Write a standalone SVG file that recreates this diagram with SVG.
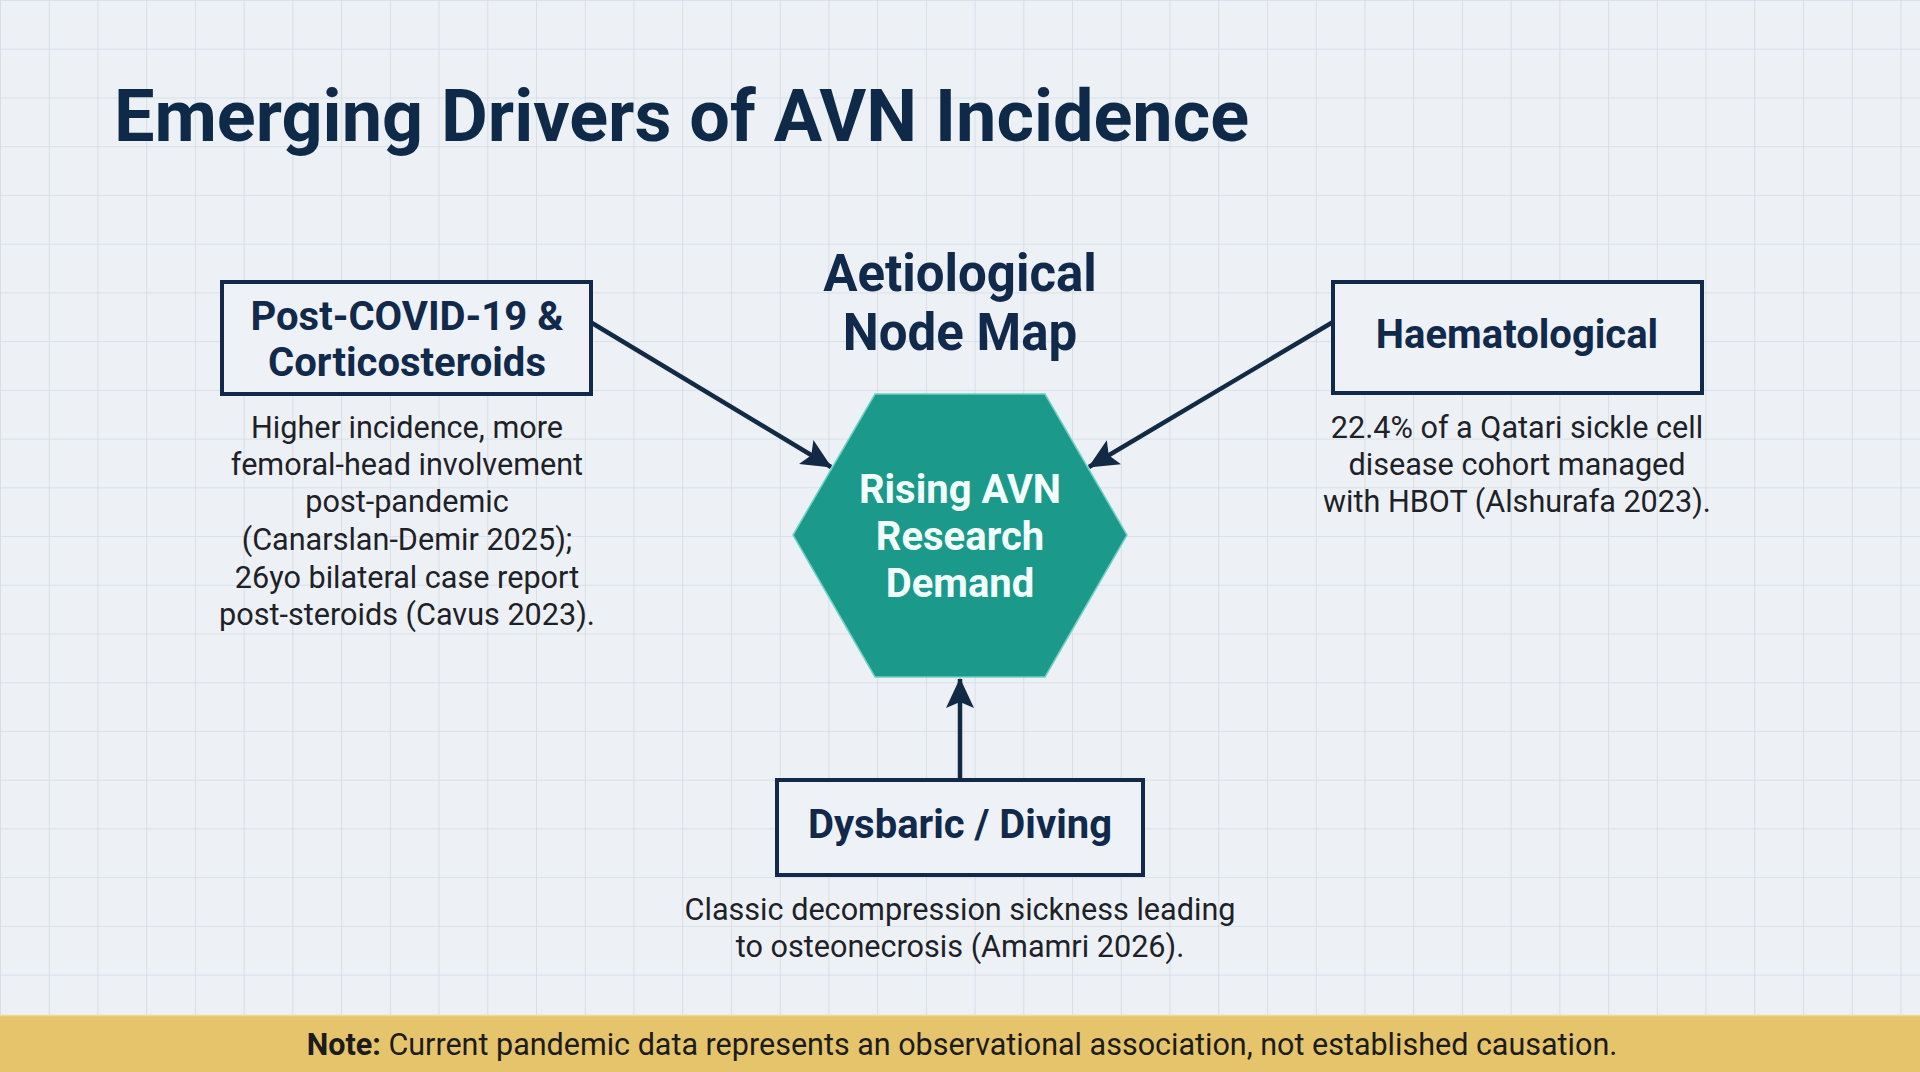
<svg xmlns="http://www.w3.org/2000/svg" width="1920" height="1072" viewBox="0 0 1920 1072">
  <defs>
    <pattern id="grid" x="0" y="0" width="48.73" height="48.73" patternUnits="userSpaceOnUse">
      <path d="M0 0 H48.73 M0 0 V48.73" fill="none" stroke="#d3dae3" stroke-width="1.6"/>
    </pattern>
    <marker id="arrow" viewBox="0 0 30 28" refX="29" refY="14" markerWidth="30" markerHeight="28" markerUnits="userSpaceOnUse" orient="auto">
      <path d="M0 0 L30 14 L0 28 L6 14 Z" fill="#122a44"/>
    </marker>
    <style>
      .title { font-family: Roboto, "Liberation Sans", sans-serif; font-weight: 700; font-size: 72px; fill: #0f2a48; }
      .sub { font-family: Roboto, "Liberation Sans", sans-serif; font-weight: 700; font-size: 51px; fill: #11294a; text-anchor: middle; }
      .head { font-family: Roboto, "Liberation Sans", sans-serif; font-weight: 700; font-size: 40px; fill: #11294a; text-anchor: middle; }
      .body { font-family: Roboto, "Liberation Sans", sans-serif; font-weight: 400; font-size: 30.6px; fill: #1e2228; text-anchor: middle; }
      .box { fill: #eef2f7; stroke: #12294a; stroke-width: 4; }
      .conn { stroke: #122a44; stroke-width: 4.5; fill: none; marker-end: url(#arrow); }
      .hextext { font-family: Roboto, "Liberation Sans", sans-serif; font-weight: 700; font-size: 40px; fill: #f2fffc; text-anchor: middle; }
      .note { font-family: Roboto, "Liberation Sans", sans-serif; font-size: 30.5px; fill: #1c1c1c; text-anchor: middle; }
    </style>
  </defs>

  <rect x="0" y="0" width="1920" height="1072" fill="#edf1f6"/>
  <rect x="0" y="0" width="1920" height="1072" fill="url(#grid)"/>

  <text class="title" x="114" y="141">Emerging Drivers of AVN Incidence</text>

  <g id="subtitle">
    <text class="sub" x="960" y="291">Aetiological</text>
    <text class="sub" x="960" y="350">Node Map</text>
  </g>

  <g id="connectors">
    <line class="conn" x1="592" y1="323" x2="831" y2="467"/>
    <line class="conn" x1="1333" y1="322" x2="1089" y2="467"/>
    <line class="conn" x1="960" y1="778" x2="960" y2="679"/>
  </g>

  <g id="node-center">
    <polygon points="793,535 875,394 1045,394 1127,535 1045,677 875,677" fill="#1b998a" stroke="#6fd0c4" stroke-width="1.5"/>
    <text class="hextext" x="960" y="503">Rising AVN</text>
    <text class="hextext" x="960" y="550">Research</text>
    <text class="hextext" x="960" y="597">Demand</text>
  </g>

  <g id="node-covid">
    <rect class="box" x="222" y="282" width="369" height="112"/>
    <text class="head" x="407" y="330">Post-COVID-19 &amp;</text>
    <text class="head" x="407" y="376">Corticosteroids</text>
    <text class="body" x="407" y="438">Higher incidence, more</text>
    <text class="body" x="407" y="475">femoral-head involvement</text>
    <text class="body" x="407" y="512">post-pandemic</text>
    <text class="body" x="407" y="550">(Canarslan-Demir 2025);</text>
    <text class="body" x="407" y="588">26yo bilateral case report</text>
    <text class="body" x="407" y="625">post-steroids (Cavus 2023).</text>
  </g>

  <g id="node-haem">
    <rect class="box" x="1333" y="282" width="369" height="111"/>
    <text class="head" x="1517" y="348">Haematological</text>
    <text class="body" x="1517" y="438">22.4% of a Qatari sickle cell</text>
    <text class="body" x="1517" y="475">disease cohort managed</text>
    <text class="body" x="1517" y="512">with HBOT (Alshurafa 2023).</text>
  </g>

  <g id="node-dysbaric">
    <rect class="box" x="777" y="780" width="366" height="95"/>
    <text class="head" x="960" y="838">Dysbaric / Diving</text>
    <text class="body" x="960" y="920">Classic decompression sickness leading</text>
    <text class="body" x="960" y="957">to osteonecrosis (Amamri 2026).</text>
  </g>

  <g id="note-bar">
    <rect x="0" y="1015" width="1920" height="57" fill="#e6c46c"/>
    <line x1="0" y1="1015.5" x2="1920" y2="1015.5" stroke="#f0d898" stroke-width="1.5"/>
    <text class="note" x="962" y="1055"><tspan font-weight="700">Note:</tspan> Current pandemic data represents an observational association, not established causation.</text>
  </g>
</svg>
